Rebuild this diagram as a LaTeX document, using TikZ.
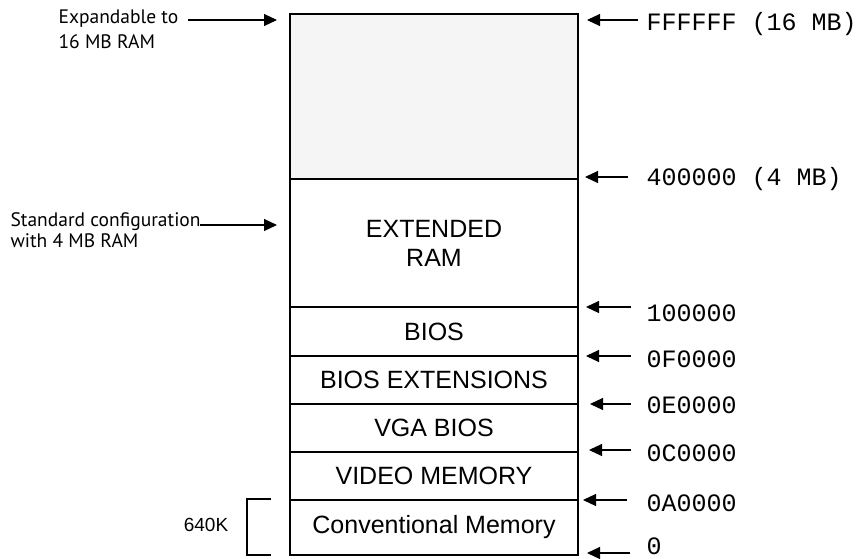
\documentclass[tikz,border=0pt]{standalone}
\usepackage{fontspec}
\setmainfont{Liberation Sans}
\newfontfamily\monofnt{Liberation Mono}
\newfontfamily\notefnt{PT Sans}
\usetikzlibrary{arrows.meta}
\begin{document}
\begin{tikzpicture}[x=1pt,y=-1pt,
  line width=1.1pt,
  region/.style={draw=black, line width=1.1pt, minimum width=288pt, inner sep=0pt, outer sep=0pt,
     font=\fontsize{25}{29}\selectfont, align=center},
  addr/.style={anchor=base west, inner sep=0pt, font=\monofnt\fontsize{25}{29}\selectfont},
  note/.style={anchor=base west, inner sep=0pt, font=\notefnt\fontsize{19.5}{24}\selectfont},
  ptr/.style={-{Triangle[length=13pt,width=12pt]}, line width=1.1pt}]
\useasboundingbox (0,0) rectangle (868,558);
% memory regions
\node[region, fill=black!4, minimum height=165pt, anchor=north west] (top) at (290,14) {};
\node[region, minimum height=128pt, anchor=north west] (ext) at (290,179) {EXTENDED\\RAM};
\node[region, minimum height=49pt, anchor=north west] (bios) at (290,307) {BIOS};
\node[region, minimum height=48pt, anchor=north west] (biosx) at (290,356) {BIOS EXTENSIONS};
\node[region, minimum height=48pt, anchor=north west] (vga) at (290,404) {VGA BIOS};
\node[region, minimum height=48pt, anchor=north west] (vid) at (290,452) {VIDEO MEMORY};
\node[region, minimum height=55pt, anchor=north west] (conv) at (290,500) {Conventional Memory};
% address labels
\node[addr] (aF) at (646,30) {FFFFFF (16 MB)};
\node[addr] (a4) at (646,185) {400000 (4 MB)};
\node[addr] (a1) at (646,321) {100000};
\node[addr] (aF0) at (646,367) {0F0000};
\node[addr] (aE0) at (646,413) {0E0000};
\node[addr] (aC0) at (646,461) {0C0000};
\node[addr] (aA0) at (646,511) {0A0000};
\node[addr] (a0) at (646,554.5) {0};
% arrow endpoints
\coordinate (sF) at (638,20);  \coordinate (tF) at (587,20);
\coordinate (s4) at (628,177); \coordinate (t4) at (585,177);
\coordinate (s1) at (631,307); \coordinate (t1) at (586,307);
\coordinate (sF0) at (631,356); \coordinate (tF0) at (586,356);
\coordinate (sE0) at (631,404); \coordinate (tE0) at (590,404);
\coordinate (sC0) at (631,450); \coordinate (tC0) at (589,450);
\coordinate (sA0) at (627,500); \coordinate (tA0) at (583,500);
\coordinate (s0) at (630,553); \coordinate (t0) at (587,553);
\draw[ptr] (sF) -- (tF);
\draw[ptr] (s4) -- (t4);
\draw[ptr] (s1) -- (t1);
\draw[ptr] (sF0) -- (tF0);
\draw[ptr] (sE0) -- (tE0);
\draw[ptr] (sC0) -- (tC0);
\draw[ptr] (sA0) -- (tA0);
\draw[ptr] (s0) -- (t0);
% left notes
\node[note] (n1a) at (58,23) {Expandable to};
\node[note] (n1b) at (58,48) {16 MB RAM};
\node[note] (n2a) at (10,226) {Standard configuration};
\node[note] (n2b) at (10,247) {with 4 MB RAM};
\coordinate (e1s) at (188,20); \coordinate (e1t) at (277,20);
\coordinate (e2s) at (200,225); \coordinate (e2t) at (277,225);
\draw[ptr] (e1s) -- (e1t);
\draw[ptr] (e2s) -- (e2t);
% 640K bracket
\coordinate (b1) at (271,499); \coordinate (b2) at (247,499);
\coordinate (b3) at (247,555); \coordinate (b4) at (271,555);
\draw (b1) -- (b2) -- (b3) -- (b4);
\node[font=\fontsize{19}{22}\selectfont, inner sep=0pt] (k640) at (206,525) {640K};
\end{tikzpicture}
\end{document}
